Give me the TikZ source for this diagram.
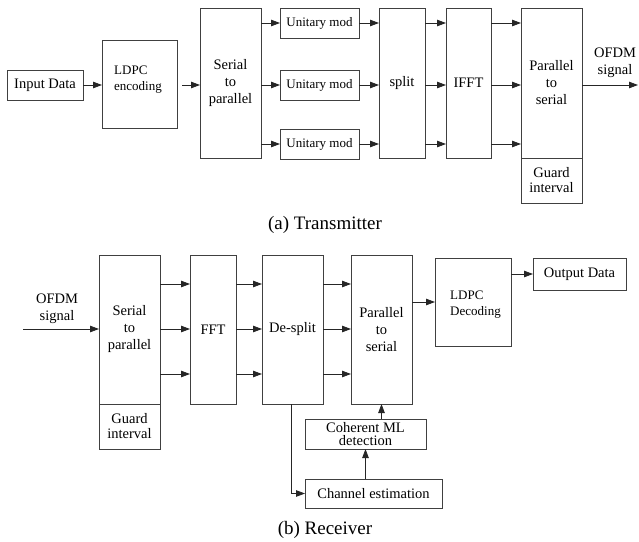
\documentclass[tikz,border=0pt]{standalone}
\usepackage{fontspec}
\setmainfont{Liberation Serif}
\usetikzlibrary{positioning, arrows.meta, calc}

\tikzset{
  blk/.style={draw=black!75, line width=0.8pt, inner sep=1pt, outer sep=0pt, align=center,
    font=\fontsize{14.5}{17}\selectfont},
  tall/.style={blk, minimum width=61pt, minimum height=150pt},
  thin/.style={blk, minimum width=46pt, minimum height=150pt},
  guard/.style={blk, minimum width=61pt, minimum height=45pt, font=\fontsize{14.5}{15}\selectfont},
  modblk/.style={blk, minimum width=79pt, minimum height=30pt, font=\fontsize{13}{15}\selectfont},
  txt/.style={inner sep=1pt, align=left, font=\fontsize{13}{16}\selectfont},
  lbl/.style={inner sep=1pt, align=center, font=\fontsize{14.5}{17}\selectfont},
  captxt/.style={inner sep=1pt, font=\fontsize{19}{22}\selectfont},
  arr/.style={-{Triangle[length=9pt,width=6.5pt]}, line width=0.8pt, draw=black!85},
}

\begin{document}
\begin{tikzpicture}[x=1pt, y=-1pt]
\useasboundingbox (0,0) rectangle (639,541);
% (a) transmitter
\node[blk, minimum width=76pt, minimum height=30pt] (inp) at (45,85) {Input Data};
\node[blk, minimum width=75pt, minimum height=88pt] (ldpc) at (139.5,84) {};
\node[txt, anchor=west] (ldpctxt) at (113,80) {LDPC\\encoding};
\node[tall] (sp) at (230.5,83) {Serial\\to\\parallel};
\node[modblk] (mod1) at (319.5,23) {Unitary mod};
\node[modblk] (mod2) at (319.5,85) {Unitary mod};
\node[modblk] (mod3) at (319.5,144) {Unitary mod};
\node[thin] (split) at (402,83) {split};
\node[thin, minimum width=45pt] (ifft) at (468.5,83) {IFFT};
\node[tall] (ps) at (551.5,83) {Parallel\\to\\serial};
\node[guard, anchor=north] (gi) at (ps.south) {Guard\\interval};
\coordinate (txout) at (638,85);
\node[lbl] (ofdm) at (615,63) {OFDM\\signal};

\draw[arr] (inp) -- (ldpc.west |- inp);
\draw[arr] ([xshift=5pt]ldpc.east |- inp) -- (sp.west |- inp);
\foreach \m in {mod1,mod2,mod3}{
  \draw[arr] (sp.east |- \m) -- (\m);
  \draw[arr] (\m) -- (split.west |- \m);
  \draw[arr] (split.east |- \m) -- (ifft.west |- \m);
  \draw[arr] (ifft.east |- \m) -- (ps.west |- \m);
}
\draw[arr] (ps.east |- mod2) -- (txout);
\node[captxt] (capa) at (325,225) {(a) Transmitter};

% (b) receiver
\coordinate (rxin) at (23,329);
\node[lbl] (ofdmr) at (57,309) {OFDM\\signal};
\node[tall, minimum height=149pt] (rsp) at (129.5,329.5) {Serial\\to\\parallel};
\node[guard, anchor=north] (rgi) at (rsp.south) {Guard\\interval};
\node[thin, minimum height=149pt] (fft) at (213,329.5) {FFT};
\node[tall, minimum height=149pt] (desplit) at (292.5,329.5) {De-split};
\node[tall, minimum height=149pt] (rps) at (381.5,329.5) {Parallel\\to\\serial};
\node[blk, minimum width=76pt, minimum height=88pt] (ldpcd) at (473,302) {};
\node[txt, anchor=west] (ldpcdtxt) at (449,305) {LDPC\\Decoding};
\node[blk, minimum width=93pt, minimum height=32pt] (outd) at (579.5,274) {Output Data};
\node[blk, minimum width=121pt, minimum height=30pt, font=\fontsize{14.5}{13.5}\selectfont] (coh) at (365.5,434) {Coherent ML\\detection};
\node[blk, minimum width=137pt, minimum height=29pt] (chan) at (373.5,493.5) {Channel estimation};
\coordinate (r1) at (0,284);
\coordinate (r2) at (0,329);
\coordinate (r3) at (0,374);

\draw[arr] (rxin) -- (rsp.west |- rxin);
\foreach \r in {r1,r2,r3}{
  \draw[arr] (rsp.east |- \r) -- (fft.west |- \r);
  \draw[arr] (fft.east |- \r) -- (desplit.west |- \r);
  \draw[arr] (desplit.east |- \r) -- (rps.west |- \r);
}
\draw[arr] (rps.east |- ldpcd.west) -- (ldpcd.west);
\draw[arr] (ldpcd.east |- outd.west) -- (outd.west);
\draw[arr] (coh.north -| rps.south) -- (rps.south);
\draw[arr] (chan.north -| coh.south) -- (coh.south);
\draw[arr] ([xshift=-1.5pt]desplit.south) |- (chan.west);
\node[captxt] (capb) at (325,530) {(b) Receiver};
\end{tikzpicture}
\end{document}
